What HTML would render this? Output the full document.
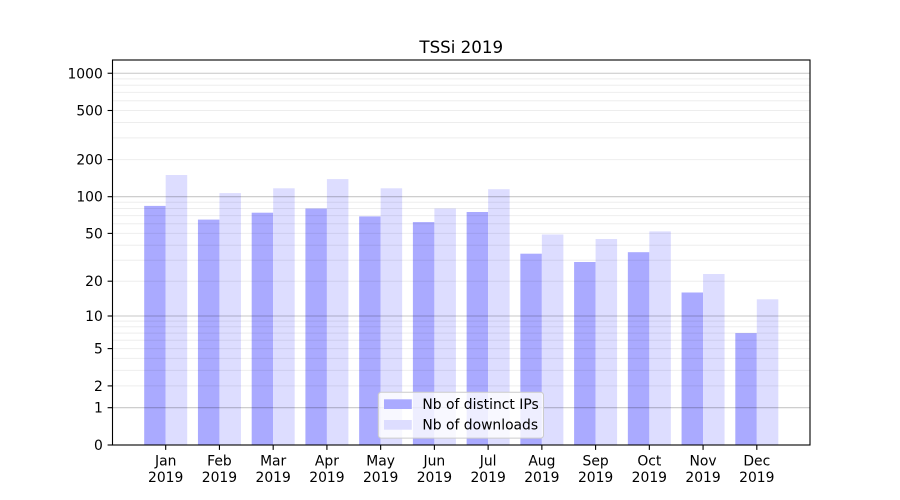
<!DOCTYPE html>
<html>
<head>
<meta charset="utf-8">
<style>
html,body{margin:0;padding:0;background:#fff;}
svg{display:block;}
text{font-family:"DejaVu Sans","Liberation Sans",sans-serif;fill:#000;}
</style>
</head>
<body>
<svg width="900" height="500" viewBox="0 0 900 500" xmlns="http://www.w3.org/2000/svg">
<rect x="0" y="0" width="900" height="500" fill="#fff"/>

<!-- bars: dark (distinct IPs) -->
<g fill="#aaaaff">
<rect x="144.20" y="205.9" width="21.50" height="239.1"/>
<rect x="197.94" y="219.6" width="21.50" height="225.4"/>
<rect x="251.68" y="212.7" width="21.50" height="232.3"/>
<rect x="305.41" y="208.5" width="21.50" height="236.5"/>
<rect x="359.15" y="216.4" width="21.50" height="228.6"/>
<rect x="412.89" y="222.1" width="21.50" height="222.9"/>
<rect x="466.63" y="212.0" width="21.50" height="233.0"/>
<rect x="520.36" y="253.7" width="21.50" height="191.3"/>
<rect x="574.10" y="262.0" width="21.50" height="183.0"/>
<rect x="627.84" y="252.2" width="21.50" height="192.8"/>
<rect x="681.57" y="292.5" width="21.50" height="152.5"/>
<rect x="735.31" y="333.1" width="21.50" height="111.9"/>
</g>
<!-- bars: light (downloads) -->
<g fill="#ddddff">
<rect x="165.70" y="175.0" width="21.50" height="270.0"/>
<rect x="219.44" y="193.1" width="21.50" height="251.9"/>
<rect x="273.18" y="188.3" width="21.50" height="256.7"/>
<rect x="326.91" y="179.1" width="21.50" height="265.9"/>
<rect x="380.65" y="188.3" width="21.50" height="256.7"/>
<rect x="434.39" y="208.5" width="21.50" height="236.5"/>
<rect x="488.13" y="189.2" width="21.50" height="255.8"/>
<rect x="541.86" y="234.5" width="21.50" height="210.5"/>
<rect x="595.60" y="239.0" width="21.50" height="206.0"/>
<rect x="649.34" y="231.4" width="21.50" height="213.6"/>
<rect x="703.07" y="274.0" width="21.50" height="171.0"/>
<rect x="756.81" y="299.3" width="21.50" height="145.7"/>
</g>

<!-- minor gridlines -->
<g stroke="#000" stroke-opacity="0.07" stroke-width="1">
<line x1="112.5" x2="810" y1="385.9" y2="385.9"/>
<line x1="112.5" x2="810" y1="370.4" y2="370.4"/>
<line x1="112.5" x2="810" y1="358.4" y2="358.4"/>
<line x1="112.5" x2="810" y1="348.6" y2="348.6"/>
<line x1="112.5" x2="810" y1="340.3" y2="340.3"/>
<line x1="112.5" x2="810" y1="333.1" y2="333.1"/>
<line x1="112.5" x2="810" y1="326.8" y2="326.8"/>
<line x1="112.5" x2="810" y1="321.1" y2="321.1"/>
<line x1="112.5" x2="810" y1="281.2" y2="281.2"/>
<line x1="112.5" x2="810" y1="260.2" y2="260.2"/>
<line x1="112.5" x2="810" y1="245.2" y2="245.2"/>
<line x1="112.5" x2="810" y1="233.4" y2="233.4"/>
<line x1="112.5" x2="810" y1="223.8" y2="223.8"/>
<line x1="112.5" x2="810" y1="215.6" y2="215.6"/>
<line x1="112.5" x2="810" y1="208.5" y2="208.5"/>
<line x1="112.5" x2="810" y1="202.3" y2="202.3"/>
<line x1="112.5" x2="810" y1="159.6" y2="159.6"/>
<line x1="112.5" x2="810" y1="137.9" y2="137.9"/>
<line x1="112.5" x2="810" y1="122.5" y2="122.5"/>
<line x1="112.5" x2="810" y1="110.5" y2="110.5"/>
<line x1="112.5" x2="810" y1="100.7" y2="100.7"/>
<line x1="112.5" x2="810" y1="92.4" y2="92.4"/>
<line x1="112.5" x2="810" y1="85.2" y2="85.2"/>
<line x1="112.5" x2="810" y1="78.9" y2="78.9"/>
</g>
<!-- major gridlines -->
<g stroke="#000" stroke-opacity="0.22" stroke-width="1.1">
<line x1="112.5" x2="810" y1="407.7" y2="407.7"/>
<line x1="112.5" x2="810" y1="316.0" y2="316.0"/>
<line x1="112.5" x2="810" y1="196.7" y2="196.7"/>
<line x1="112.5" x2="810" y1="73.25" y2="73.25"/>
</g>

<!-- axes frame -->
<rect x="112.5" y="60" width="697.5" height="385" fill="none" stroke="#000" stroke-width="1.1"/>

<!-- y ticks -->
<g stroke="#000" stroke-width="1.1">
<line x1="107.6" x2="112.5" y1="445" y2="445"/>
<line x1="107.6" x2="112.5" y1="407.7" y2="407.7"/>
<line x1="107.6" x2="112.5" y1="385.9" y2="385.9"/>
<line x1="107.6" x2="112.5" y1="348.6" y2="348.6"/>
<line x1="107.6" x2="112.5" y1="316.0" y2="316.0"/>
<line x1="107.6" x2="112.5" y1="281.2" y2="281.2"/>
<line x1="107.6" x2="112.5" y1="233.4" y2="233.4"/>
<line x1="107.6" x2="112.5" y1="196.7" y2="196.7"/>
<line x1="107.6" x2="112.5" y1="159.6" y2="159.6"/>
<line x1="107.6" x2="112.5" y1="110.5" y2="110.5"/>
<line x1="107.6" x2="112.5" y1="73.25" y2="73.25"/>
</g>
<g font-size="13.89" text-anchor="end">
<text x="102.8" y="450.0">0</text>
<text x="102.8" y="412.7">1</text>
<text x="102.8" y="390.9">2</text>
<text x="102.8" y="353.6">5</text>
<text x="102.8" y="321.0">10</text>
<text x="102.8" y="286.2">20</text>
<text x="102.8" y="238.4">50</text>
<text x="102.8" y="201.7">100</text>
<text x="102.8" y="164.6">200</text>
<text x="102.8" y="115.5">500</text>
<text x="102.8" y="78.25">1000</text>
</g>

<!-- x ticks -->
<g stroke="#000" stroke-width="1.1">
<line x1="165.70" x2="165.70" y1="445" y2="449.9"/>
<line x1="219.44" x2="219.44" y1="445" y2="449.9"/>
<line x1="273.18" x2="273.18" y1="445" y2="449.9"/>
<line x1="326.91" x2="326.91" y1="445" y2="449.9"/>
<line x1="380.65" x2="380.65" y1="445" y2="449.9"/>
<line x1="434.39" x2="434.39" y1="445" y2="449.9"/>
<line x1="488.13" x2="488.13" y1="445" y2="449.9"/>
<line x1="541.86" x2="541.86" y1="445" y2="449.9"/>
<line x1="595.60" x2="595.60" y1="445" y2="449.9"/>
<line x1="649.34" x2="649.34" y1="445" y2="449.9"/>
<line x1="703.07" x2="703.07" y1="445" y2="449.9"/>
<line x1="756.81" x2="756.81" y1="445" y2="449.9"/>
</g>
<g font-size="13.89" text-anchor="middle">
<text x="165.70" y="465.3">Jan</text><text x="165.70" y="481.9">2019</text>
<text x="219.44" y="465.3">Feb</text><text x="219.44" y="481.9">2019</text>
<text x="273.18" y="465.3">Mar</text><text x="273.18" y="481.9">2019</text>
<text x="326.91" y="465.3">Apr</text><text x="326.91" y="481.9">2019</text>
<text x="380.65" y="465.3">May</text><text x="380.65" y="481.9">2019</text>
<text x="434.39" y="465.3">Jun</text><text x="434.39" y="481.9">2019</text>
<text x="488.13" y="465.3">Jul</text><text x="488.13" y="481.9">2019</text>
<text x="541.86" y="465.3">Aug</text><text x="541.86" y="481.9">2019</text>
<text x="595.60" y="465.3">Sep</text><text x="595.60" y="481.9">2019</text>
<text x="649.34" y="465.3">Oct</text><text x="649.34" y="481.9">2019</text>
<text x="703.07" y="465.3">Nov</text><text x="703.07" y="481.9">2019</text>
<text x="756.81" y="465.3">Dec</text><text x="756.81" y="481.9">2019</text>
</g>

<!-- title -->
<text x="461.25" y="53" font-size="16.67" text-anchor="middle">TSSi 2019</text>

<!-- legend -->
<rect x="378.3" y="392.3" width="165.2" height="45.8" rx="2.8" ry="2.8" fill="#fff" fill-opacity="0.8" stroke="#cccccc" stroke-width="1"/>
<rect x="384" y="399.3" width="27.8" height="9.7" fill="#aaaaff"/>
<rect x="384" y="420" width="27.8" height="9.7" fill="#ddddff"/>
<g font-size="13.89">
<text x="422.4" y="409">Nb of distinct IPs</text>
<text x="422.4" y="429.7">Nb of downloads</text>
</g>
</svg>
</body>
</html>
